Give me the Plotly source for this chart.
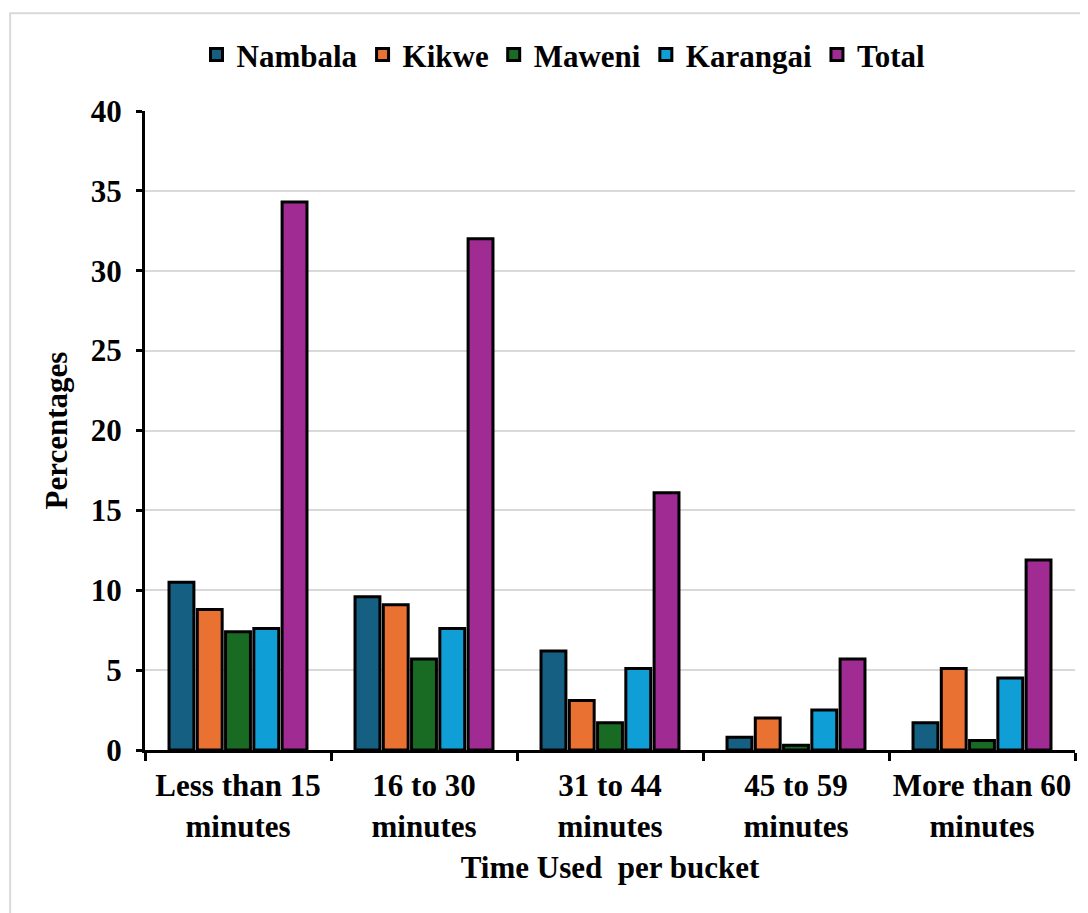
import plotly.graph_objects as go

categories = ["Less than 15<br>minutes", "16 to 30<br>minutes", "31 to 44<br>minutes",
              "45 to 59<br>minutes", "More than 60<br>minutes"]
nambala = [10.5, 9.6, 6.2, 0.8, 1.7]
kikwe = [8.8, 9.1, 3.1, 2.0, 5.1]
maweni = [7.4, 5.7, 1.7, 0.3, 0.6]
karangai = [7.6, 7.6, 5.1, 2.5, 4.5]
total = [34.3, 32.0, 16.1, 5.7, 11.9]

series = [("Nambala", nambala, "#156082"), ("Kikwe", kikwe, "#E97132"),
          ("Maweni", maweni, "#196B24"), ("Karangai", karangai, "#0F9ED5"),
          ("Total", total, "#A02B93")]

FONT = "Liberation Serif"
FS = 31
fig = go.Figure()
for name, vals, col in series:
    fig.add_trace(go.Bar(x=categories, y=vals, name=name,
                         marker=dict(color=col, line=dict(color="black", width=3))))

fig.update_layout(
    width=1080, height=905,
    paper_bgcolor="white", plot_bgcolor="white",
    margin=dict(l=137, r=13, t=103, b=163, autoexpand=False),
    barmode="group", bargap=0.24, bargroupgap=0.12,
    font=dict(family=FONT, size=FS, color="black"),
    legend=dict(orientation="h", x=0.45, xanchor="center", y=1.088, yanchor="middle",
                font=dict(family=FONT, size=FS, color="black", weight="bold"),
                itemwidth=30, tracegroupgap=0),
    xaxis=dict(showline=True, linecolor="black", linewidth=3, automargin=False,
               ticks="outside", tickson="boundaries", ticklen=8, tickwidth=3, tickcolor="black",
               ticklabelstandoff=6, tickangle=0,
               tickfont=dict(family=FONT, size=FS, weight="bold"),
               title=dict(text="Time Used  per bucket", standoff=14,
                          font=dict(family=FONT, size=FS, weight="bold"))),
    yaxis=dict(range=[0, 40], dtick=5, showline=True, linecolor="black", linewidth=3,
               automargin=False,
               ticks="outside", ticklen=6, tickwidth=3, tickcolor="black",
               ticklabelstandoff=8,
               showgrid=True, gridcolor="#D9D9D9", gridwidth=2,
               tickfont=dict(family=FONT, size=FS, weight="bold"),
               title=dict(text="Percentages", standoff=14,
                          font=dict(family=FONT, size=FS, weight="bold"))),
    shapes=[dict(type="rect", xref="paper", yref="paper", x0=-0.145, x1=1.05,
                 y0=-0.3, y1=1.153, line=dict(color="#D9D9D9", width=2), layer="below")],
)
fig.write_html("out.html")
